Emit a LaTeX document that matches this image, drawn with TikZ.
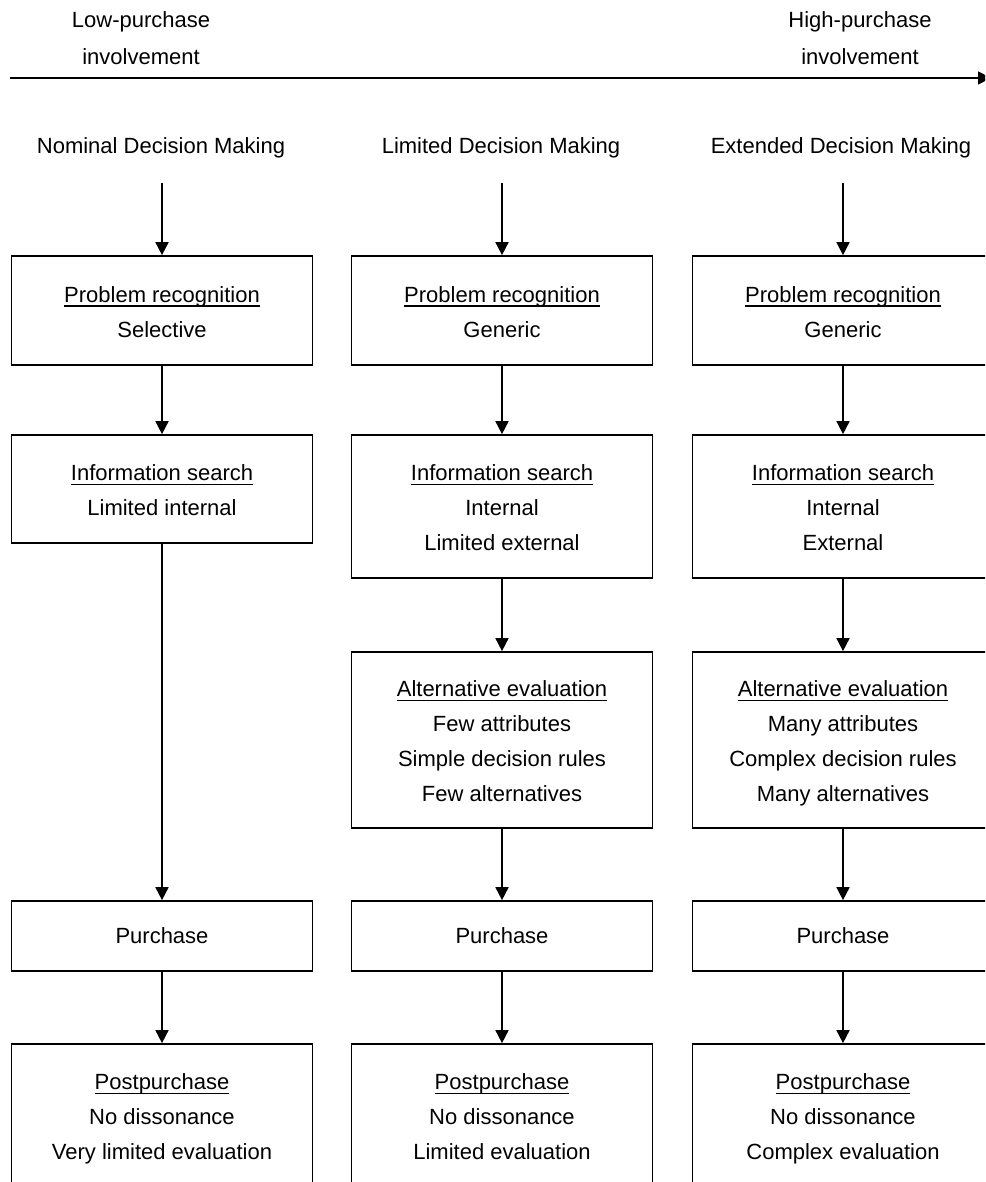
\documentclass[tikz,border=0pt]{standalone}
\usepackage{fontspec}
\setmainfont{Liberation Sans}
\usetikzlibrary{arrows.meta}

% tall strut that sets the vertical placement of a box's text block
\newcommand{\topstrut}{\rule{0pt}{29pt}}
% underlined stage title with a rule just below the baseline
\newcommand{\stagetitle}[1]{\topstrut\setbox0\hbox{#1}\rlap{\rule[-4.5pt]{\wd0}{1.7pt}}\box0}

\tikzset{
  txt/.style={font=\fontsize{22}{35}\selectfont, inner sep=0pt, align=center},
  stage/.style={txt, draw, line width=1.7pt, minimum width=301pt,
    execute at end node=\strut},
  arr/.style={line width=1.7pt, -{Triangle[width=13pt,length=13pt]}},
}

\begin{document}
\begin{tikzpicture}[x=1pt,y=-1pt]
\useasboundingbox (0,0) rectangle (985,1182);
\clip (0,0) rectangle (985,1182);

% involvement axis
\node[txt, font=\fontsize{22}{37}\selectfont] (lo) at (141,38.5) {Low-purchase\\involvement};
\node[txt, font=\fontsize{22}{37}\selectfont] (hi) at (860,38.5) {High-purchase\\involvement};
\coordinate (ax0) at (10,78);
\coordinate (ax1) at (991,78);
\draw[arr] (ax0) -- (ax1);

% column headings
\node[txt] (h1) at (161,148) {Nominal Decision Making};
\node[txt] (h2) at (501,148) {Limited Decision Making};
\node[txt] (h3) at (841,148) {Extended Decision Making};
\coordinate (s1) at (162,183);
\coordinate (s2) at (502,183);
\coordinate (s3) at (843,183);

% problem recognition
\node[stage, minimum height=109pt] (p1) at (162,310.5) {\stagetitle{Problem recognition}\\Selective};
\node[stage, minimum height=109pt] (p2) at (502,310.5) {\stagetitle{Problem recognition}\\Generic};
\node[stage, minimum height=109pt] (p3) at (843,310.5) {\stagetitle{Problem recognition}\\Generic};

% information search
\node[stage, minimum height=108pt] (i1) at (162,489) {\stagetitle{Information search}\\Limited internal};
\node[stage, minimum height=143pt] (i2) at (502,506.5) {\stagetitle{Information search}\\Internal\\Limited external};
\node[stage, minimum height=143pt] (i3) at (843,506.5) {\stagetitle{Information search}\\Internal\\External};

% alternative evaluation
\node[stage, minimum height=176pt] (a2) at (502,740) {\stagetitle{Alternative evaluation}\\Few attributes\\Simple decision rules\\Few alternatives};
\node[stage, minimum height=176pt] (a3) at (843,740) {\stagetitle{Alternative evaluation}\\Many attributes\\Complex decision rules\\Many alternatives};

% purchase
\node[stage, minimum height=70pt] (u1) at (162,936) {\strut Purchase};
\node[stage, minimum height=70pt] (u2) at (502,936) {\strut Purchase};
\node[stage, minimum height=70pt] (u3) at (843,936) {\strut Purchase};

% postpurchase
\node[stage, minimum height=143pt] (q1) at (162,1115.5) {\stagetitle{Postpurchase}\\No dissonance\\Very limited evaluation};
\node[stage, minimum height=143pt] (q2) at (502,1115.5) {\stagetitle{Postpurchase}\\No dissonance\\Limited evaluation};
\node[stage, minimum height=143pt] (q3) at (843,1115.5) {\stagetitle{Postpurchase}\\No dissonance\\Complex evaluation};

% flows
\draw[arr] (s1) -- (p1);
\draw[arr] (p1) -- (i1);
\draw[arr] (i1) -- (u1);
\draw[arr] (u1) -- (q1);

\draw[arr] (s2) -- (p2);
\draw[arr] (p2) -- (i2);
\draw[arr] (i2) -- (a2);
\draw[arr] (a2) -- (u2);
\draw[arr] (u2) -- (q2);

\draw[arr] (s3) -- (p3);
\draw[arr] (p3) -- (i3);
\draw[arr] (i3) -- (a3);
\draw[arr] (a3) -- (u3);
\draw[arr] (u3) -- (q3);
\end{tikzpicture}
\end{document}
